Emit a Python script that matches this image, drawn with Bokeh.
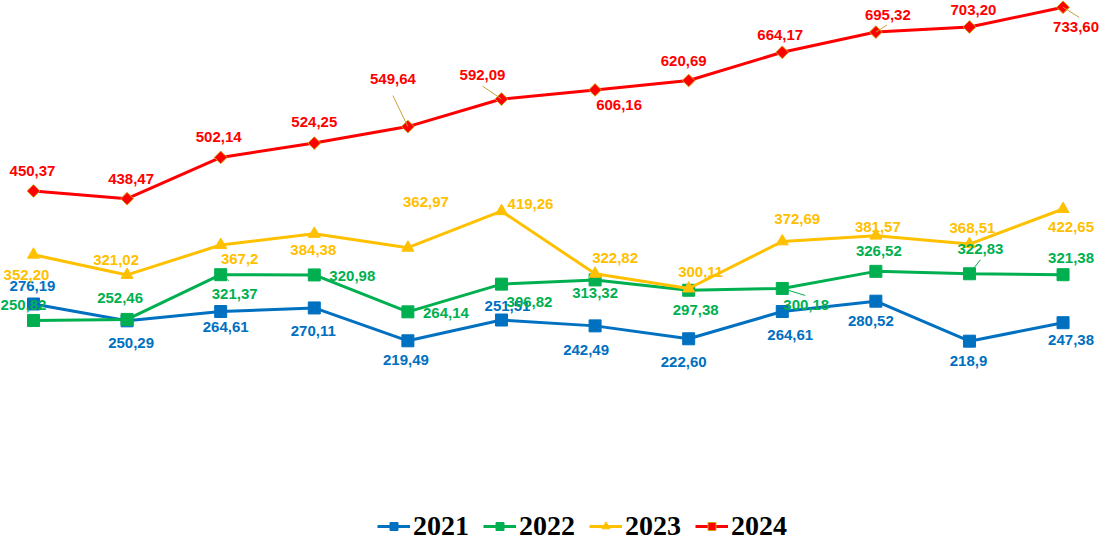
import math
from bokeh.plotting import figure
from bokeh.models import Range1d, Legend, LegendItem, ColumnDataSource
from bokeh.embed import file_html
from bokeh.resources import INLINE
from bokeh.core.properties import value

# ---- data ----
idx = list(range(12))
years = ["2021", "2022", "2023", "2024"]
v2021 = [276.19, 250.29, 264.61, 270.11, 219.49, 251.51, 242.49, 222.60, 264.61, 280.52, 218.9, 247.38]
v2022 = [250.82, 252.46, 321.37, 320.98, 264.14, 306.82, 313.32, 297.38, 300.18, 326.52, 322.83, 321.38]
v2023 = [352.20, 321.02, 367.2, 384.38, 362.97, 419.26, 322.82, 300.11, 372.69, 381.57, 368.51, 422.65]
v2024 = [450.37, 438.47, 502.14, 524.25, 549.64, 592.09, 606.16, 620.69, 664.17, 695.32, 703.20, 733.60]
t2021 = ["276,19", "250,29", "264,61", "270,11", "219,49", "251,51", "242,49", "222,60", "264,61", "280,52", "218,9", "247,38"]
t2022 = ["250,82", "252,46", "321,37", "320,98", "264,14", "306,82", "313,32", "297,38", "300,18", "326,52", "322,83", "321,38"]
t2023 = ["352,20", "321,02", "367,2", "384,38", "362,97", "419,26", "322,82", "300,11", "372,69", "381,57", "368,51", "422,65"]
t2024 = ["450,37", "438,47", "502,14", "524,25", "549,64", "592,09", "606,16", "620,69", "664,17", "695,32", "703,20", "733,60"]

# ---- label placement (screen px offsets, styles) ----
off2021 = [(-1, -18), (4, 22), (5, 15), (-1, 23), (-2, 19), (6, -14), (-9, 24), (-5, 23), (8, 23), (-5, 20), (-1, 20), (8, 17)]
off2022 = [(-10, -15), (-7, -21), (14, 19), (38, 1), (38, 1), (28, 18), (0, 13), (7, 20), (24, 17), (3, -20), (11, -25), (8, -17)]
off2023 = [(-7, 20), (-11, -15), (19, 14), (-1, 16), (18, -46), (29, -7), (20, -16), (12, -16), (15, -22), (2, -9), (3, -16), (8, 18)]
off2024 = [(-1, -20), (4, -20), (-2, -20), (0, -21), (-15, -48), (-19, -24), (24, 15), (-5, -20), (-2, -17), (12, -17), (4, -17), (13, 20)]
# leader lines: (series, index, end offset px)
leaders = [("2024", 4, (-15, -31)), ("2024", 5, (-19, -13)), ("2024", 9, (11, -7)), ("2024", 11, (16, 10)),
           ("2022", 2, (8, 6)), ("2022", 10, (11, -14)), ("2022", 8, (23, 7))]

colors = {"2021": "#0070C0", "2022": "#00B050", "2023": "#FFC000", "2024": "#FF0000"}
leader_colors = {"2021": "#0070C0", "2022": "#00B050", "2023": "#FFC000", "2024": "#C9A23A"}

W, H = 1100, 542
xs, xe = -0.3526, 11.4
ys, ye = -91.4, 744.0

p = figure(width=W, height=H, output_backend="svg", toolbar_location=None,
           x_range=Range1d(xs, xe), y_range=Range1d(ys, ye),
           min_border=0, x_axis_location=None, y_axis_location=None)
p.grid.visible = False
p.outline_line_color = None
p.background_fill_color = "white"

vals = {"2021": v2021, "2022": v2022, "2023": v2023, "2024": v2024}
texts = {"2021": t2021, "2022": t2022, "2023": t2023, "2024": t2024}
offs = {"2021": off2021, "2022": off2022, "2023": off2023, "2024": off2024}

items = []
for y in years:
    src = ColumnDataSource(dict(x=idx, y=vals[y]))
    ln = p.line("x", "y", source=src, line_color=colors[y], line_width=3)
    if y in ("2021", "2022"):
        mk = p.scatter("x", "y", source=src, marker="square", size=12,
                       fill_color=colors[y], line_color=colors[y])
    elif y == "2023":
        mk = p.scatter("x", "y", source=src, marker="triangle", size=12,
                       fill_color=colors[y], line_color=colors[y])
    else:
        mk = p.scatter("x", "y", source=src, marker="square", size=9, angle=math.pi / 4,
                       fill_color=colors[y], line_color="#D4A017", line_width=1)
    items.append(LegendItem(label=y, renderers=[ln, mk]))

# leader lines
pxx = W / (xe - xs)
pxy = H / (ye - ys)
lx0, ly0, lx1, ly1, lc = [], [], [], [], []
for (y, i, (dx, dy)) in leaders:
    lx0.append(idx[i]); ly0.append(vals[y][i])
    lx1.append(idx[i] + dx / pxx); ly1.append(vals[y][i] - dy / pxy)
    lc.append(leader_colors[y])
p.segment(x0=lx0, y0=ly0, x1=lx1, y1=ly1, line_color=lc, line_width=1)

for y in years:
    src = ColumnDataSource(dict(x=idx, y=vals[y], t=texts[y],
                                dx=[o[0] for o in offs[y]], dy=[o[1] for o in offs[y]]))
    p.text("x", "y", text="t", source=src, x_offset="dx", y_offset="dy",
           text_align="center", text_baseline="middle",
           text_font=value("Liberation Sans"), text_font_style="bold",
           text_font_size="15px", text_color=colors[y])

legend = Legend(items=items, orientation="horizontal", location=(377, 0),
                label_text_font="Liberation Serif", label_text_font_style="bold",
                label_text_font_size="28px", label_text_color="black",
                glyph_width=33, glyph_height=20, label_standoff=3, spacing=14,
                padding=0, margin=0, border_line_alpha=0, background_fill_alpha=0)
p.add_layout(legend)

open("out.html", "w").write(file_html(p, INLINE))
